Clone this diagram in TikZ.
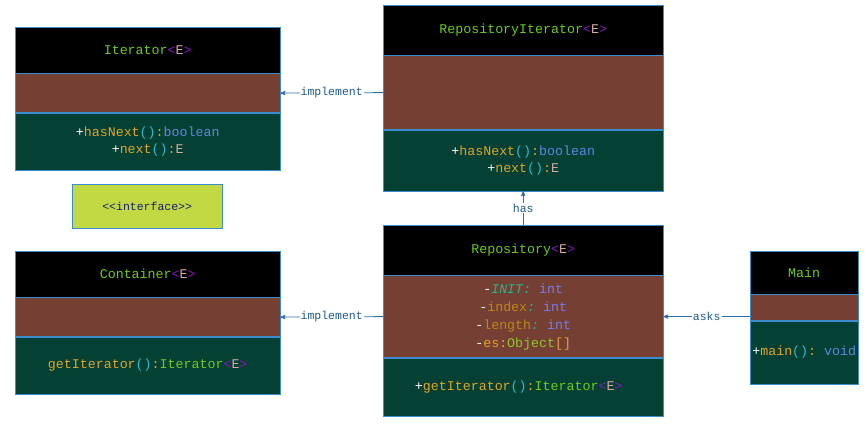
\documentclass[tikz,border=0pt]{standalone}
\usepackage{fontspec}
\setmonofont{Liberation Mono}
\usepackage{xcolor}
\usetikzlibrary{arrows,positioning}
\definecolor{umlblue}{RGB}{60,140,210}
\definecolor{arrblue}{RGB}{50,110,170}
\definecolor{lblblue}{RGB}{30,90,140}
\definecolor{attrbrown}{RGB}{118,63,51}
\definecolor{methgreen}{RGB}{4,64,52}
\definecolor{ifgreen}{RGB}{195,217,67}
\definecolor{ifnavy}{RGB}{20,30,110}
\definecolor{clsgreen}{RGB}{105,205,25}
\definecolor{brkpurple}{RGB}{140,20,200}
\definecolor{etype}{RGB}{215,172,160}
\definecolor{methgold}{RGB}{225,165,35}
\definecolor{parcyan}{RGB}{40,190,210}
\definecolor{typeblue}{RGB}{95,135,225}
\definecolor{intblue}{RGB}{120,125,235}
\definecolor{initteal}{RGB}{40,180,140}
\definecolor{fldgold}{RGB}{190,135,20}
\definecolor{objgreen}{RGB}{140,200,40}
\definecolor{brkorange}{RGB}{230,160,60}
\newcommand\ename[1]{\textcolor{clsgreen}{#1}}
\newcommand\genE{\textcolor{brkpurple}{\textless}\textcolor{etype}{E}\textcolor{brkpurple}{\textgreater}}
\newcommand\pub{\textcolor{white}{+}}
\newcommand\priv{\textcolor{white}{-}}
\newcommand\meth[1]{\textcolor{methgold}{#1}\textcolor{parcyan}{()}\textcolor{methgold}{:}}
\newcommand\tname[1]{\textcolor{typeblue}{#1}}
\newcommand\iname[1]{\textcolor{intblue}{#1}}
\tikzset{
  umlpart/.style = {draw=umlblue, inner sep=0pt, align=center,
    font=\ttfamily\fontsize{13.3}{17.5}\selectfont},
  cls_h/.style = {umlpart, fill=black, text=clsgreen},% class name
  cls_a/.style = {umlpart, fill=attrbrown},% attributes
  cls_m/.style = {umlpart, fill=methgreen},% methods
  rel/.style = {->, >=stealth', draw=arrblue, thick},
  rel_l/.style = {fill=white, text=lblblue, inner sep=1pt,
    font=\ttfamily\fontsize{11.5}{13}\selectfont}
}
\begin{document}
\begin{tikzpicture}[x=1pt,y=-1pt]
\useasboundingbox (0,0) rectangle (867,423);
% Iterator
\node [cls_h, anchor=north west, minimum width=265pt, minimum height=46pt] (iterH) at (15,27) {\ename{Iterator}\genE};
\node [cls_a, below=0pt of iterH, minimum width=265pt, minimum height=39pt] (iterA) {};
\node [cls_m, below=0pt of iterA, minimum width=265pt, minimum height=57pt] (iterM)
  {\pub\meth{hasNext}\tname{boolean}\\\pub\meth{next}\textcolor{etype}{E}};
% RepositoryIterator
\node [cls_h, anchor=north west, minimum width=280pt, minimum height=50pt] (repiH) at (383,5) {\ename{RepositoryIterator}\genE};
\node [cls_a, below=0pt of repiH, minimum width=280pt, minimum height=74pt] (repiA) {};
\node [cls_m, below=0pt of repiA, minimum width=280pt, minimum height=61pt] (repiM)
  {\pub\meth{hasNext}\tname{boolean}\\\pub\meth{next}\textcolor{etype}{E}};
% interface
\node [draw=umlblue, fill=ifgreen, text=ifnavy, anchor=north west, minimum width=150pt, minimum height=44pt,
  font=\ttfamily\fontsize{11.5}{13}\selectfont] (iface) at (72,184) {\textless\textless interface\textgreater\textgreater};
% Container
\node [cls_h, anchor=north west, minimum width=265pt, minimum height=46pt] (contH) at (15,251) {\ename{Container}\genE};
\node [cls_a, below=0pt of contH, minimum width=265pt, minimum height=39pt] (contA) {};
\node [cls_m, below=0pt of contA, minimum width=265pt, minimum height=57pt] (contM)
  {\meth{getIterator}\ename{Iterator}\genE};
% Repository
\node [cls_h, anchor=north west, minimum width=280pt, minimum height=50pt] (repoH) at (383,225) {\ename{Repository}\genE};
\node [cls_a, below=0pt of repoH, minimum width=280pt, minimum height=82pt, font=\ttfamily\fontsize{13.3}{18}\selectfont] (repoA)
  {\priv\textcolor{initteal}{\textit{INIT:}} \iname{int}\\
   \priv\textcolor{fldgold}{index}\textcolor{initteal}{\textit{:}} \iname{int}\\
   \priv\textcolor{fldgold}{length}\textcolor{initteal}{\textit{:}} \iname{int}\\
   \priv\textcolor{methgold}{es:}\textcolor{objgreen}{Object}\textcolor{brkorange}{[]}};
\node [cls_m, below=0pt of repoA, minimum width=280pt, minimum height=58pt] (repoM)
  {\hspace*{-9pt}\pub\meth{getIterator}\ename{Iterator}\genE};
% Main
\node [cls_h, anchor=north west, minimum width=108pt, minimum height=43pt] (mainH) at (750,251) {\ename{Main}};
\node [cls_a, below=0pt of mainH, minimum width=108pt, minimum height=26pt] (mainA) {};
\node [cls_m, below=0pt of mainA, minimum width=108pt, minimum height=63pt] (mainM)
  {\pub\meth{main} \tname{void}};
% relations
\draw [rel] (repiA.west) -- node [rel_l] {implement} (iterA.east);
\draw [rel] (repoA.west) -- node [rel_l] {implement} (contA.east);
\draw [rel] (repoH.north) -- node [rel_l] {has} (repiM.south);
\draw [rel] (mainA.west |- repoA.east) -- node [rel_l] {asks} (repoA.east);
\end{tikzpicture}
\end{document}
